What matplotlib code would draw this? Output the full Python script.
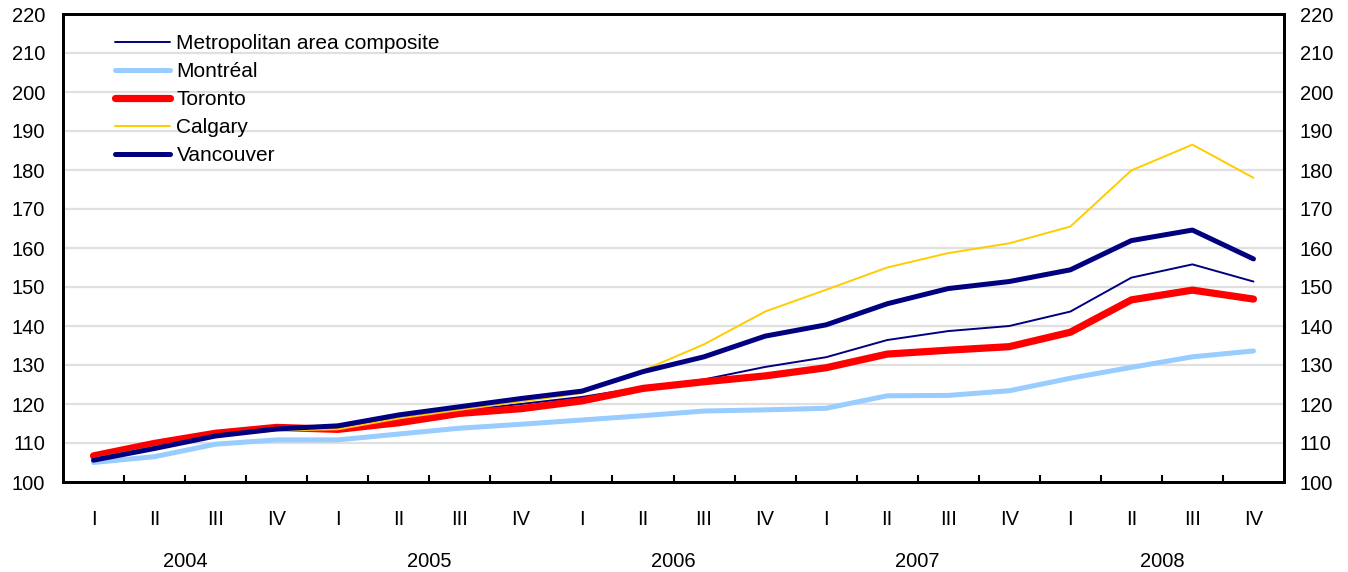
import matplotlib
matplotlib.use("Agg")
import matplotlib.pyplot as plt
from matplotlib.ticker import FixedLocator

plt.rcParams['font.family'] = ['Liberation Sans', 'DejaVu Sans']

quarters = ["I", "II", "III", "IV"] * 5
years = ["2004", "2005", "2006", "2007", "2008"]

composite = [106.0, 109.0, 111.8, 113.3, 113.8, 116.3, 118.3, 120.0, 121.8, 124.3,
             126.3, 129.5, 132.0, 136.4, 138.7, 140.0, 143.7, 152.4, 155.8, 151.4]
montreal = [105.0, 106.5, 109.7, 110.8, 110.8, 112.3, 113.8, 114.8, 115.9, 117.0,
            118.2, 118.5, 118.9, 122.1, 122.2, 123.4, 126.6, 129.4, 132.1, 133.6]
toronto = [106.7, 109.9, 112.5, 114.0, 113.5, 115.2, 117.6, 118.8, 120.8, 124.0,
           125.7, 127.2, 129.3, 132.8, 133.8, 134.7, 138.4, 146.7, 149.2, 146.9]
calgary = [106.0, 109.0, 111.8, 113.2, 113.5, 116.3, 118.5, 120.6, 122.8, 128.6,
           135.3, 143.7, 149.3, 155.0, 158.7, 161.2, 165.5, 179.9, 186.5, 178.0]
vancouver = [105.6, 108.6, 111.8, 113.6, 114.4, 117.2, 119.3, 121.4, 123.3, 128.3,
             132.1, 137.4, 140.3, 145.7, 149.6, 151.4, 154.4, 161.9, 164.6, 157.2]

series = [
    ("Metropolitan area composite", composite, "#000080", 1.4),
    ("Montréal", montreal, "#99CCFF", 3.6),
    ("Toronto", toronto, "#FF0000", 5.2),
    ("Calgary", calgary, "#FFCC00", 1.4),
    ("Vancouver", vancouver, "#000080", 3.6),
]

W, H = 1348, 572
fig = plt.figure(figsize=(W / 100, H / 100), dpi=100)
ax = fig.add_axes([63 / W, 1 - 482 / H, (1284 - 63) / W, (482 - 14) / H])

x = list(range(len(quarters)))
handles = []
for name, vals, col, lw in series:
    h, = ax.plot(x, vals, color=col, lw=lw, label=name,
                 solid_capstyle='round', solid_joinstyle='round', zorder=3)
    handles.append(h)

ax.set_xlim(-0.5, len(quarters) - 0.5)
ax.set_ylim(100, 220)
yt = list(range(100, 221, 10))
ax.set_yticks(yt)
ax.set_yticklabels([str(v) for v in yt])
for v in yt[1:-1]:
    ax.axhline(v, color="#E0E0E0", lw=1.6, zorder=1)

FS = 14.5
ax.set_xticks(x)
ax.set_xticklabels(quarters)
ax.xaxis.set_minor_locator(FixedLocator([i + 0.5 for i in range(len(quarters) - 1)]))
ax.tick_params(axis='x', which='major', length=0, pad=20, labelsize=FS)
ax.tick_params(axis='x', which='minor', direction='in', length=5, width=1.5)
ax.tick_params(axis='y', length=0, pad=13, labelsize=FS)

for i, yr in enumerate(years):
    ax.text(i * 4 + 1.5, -0.169, yr, transform=ax.get_xaxis_transform(),
            ha='center', va='center', fontsize=FS)

ax2 = ax.twinx()
ax2.set_ylim(100, 220)
ax2.set_yticks(yt)
ax2.set_yticklabels([str(v) for v in yt])
ax2.tick_params(axis='y', length=0, pad=11.5, labelsize=FS)

for a in (ax, ax2):
    for s in a.spines.values():
        s.set_linewidth(2)
        s.set_color('black')

leg = fig.legend(handles=handles, loc='upper left', bbox_to_anchor=(115 / W, 1 - 34 / H),
                 frameon=False, fontsize=15, handlelength=2.65, handletextpad=0.3,
                 labelspacing=0.43, borderpad=0, borderaxespad=0)

fig.savefig("out.png", dpi=100)
